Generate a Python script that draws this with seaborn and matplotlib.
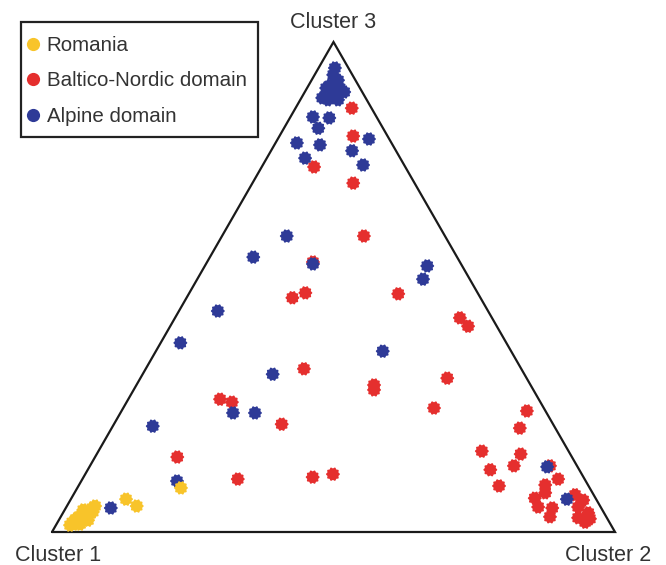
import numpy as np
import pandas as pd
import matplotlib
matplotlib.use("Agg")
import matplotlib.pyplot as plt
from matplotlib.path import Path
from matplotlib.lines import Line2D
from matplotlib.patches import Rectangle
import seaborn as sns

# Membership proportions (Cluster 2, Cluster 3); Cluster 1 is the remainder.
romania_c2 = [0.026, 0.029, 0.033, 0.038, 0.043, 0.047, 0.037, 0.046, 0.049, 0.041,
              0.031, 0.025, 0.033, 0.050, 0.042, 0.052, 0.052,
              0.098, 0.124, 0.184]
romania_c3 = [0.020, 0.027, 0.033, 0.037, 0.041, 0.049, 0.018, 0.029, 0.037, 0.024,
              0.016, 0.014, 0.045, 0.053, 0.016, 0.024, 0.041,
              0.067, 0.053, 0.090]

alpine_c2 = [0.080, 0.170, 0.029, 0.033, 0.047, 0.038, 0.058, 0.034, 0.070, 0.053,
             0.049, 0.067, 0.037, 0.040, 0.070, 0.061, 0.038, 0.081, 0.068, 0.162,
             0.144, 0.178, 0.115, 0.077, 0.190, 0.069, 0.035, 0.231, 0.200, 0.239,
             0.071, 0.395, 0.401, 0.403, 0.813, 0.881]
alpine_c3 = [0.049, 0.104, 0.947, 0.933, 0.922, 0.912, 0.906, 0.906, 0.898, 0.892,
             0.882, 0.882, 0.886, 0.847, 0.845, 0.824, 0.794, 0.790, 0.763, 0.802,
             0.778, 0.749, 0.604, 0.561, 0.547, 0.451, 0.386, 0.322, 0.243, 0.243,
             0.216, 0.543, 0.516, 0.369, 0.133, 0.067]

baltic_c2 = [0.100, 0.131, 0.093, 0.179, 0.252, 0.188, 0.188, 0.206, 0.372, 0.506,
             0.529, 0.281, 0.422, 0.427, 0.545, 0.552, 0.163, 0.187, 0.298, 0.407,
             0.440, 0.146, 0.276, 0.720, 0.725, 0.681, 0.753, 0.753, 0.715, 0.747,
             0.817, 0.845, 0.828, 0.836, 0.823, 0.838, 0.864, 0.869, 0.891, 0.911,
             0.909, 0.920, 0.933, 0.942, 0.937]
baltic_c3 = [0.865, 0.808, 0.745, 0.712, 0.604, 0.551, 0.478, 0.488, 0.486, 0.437,
             0.420, 0.333, 0.300, 0.290, 0.314, 0.253, 0.271, 0.265, 0.220, 0.112,
             0.118, 0.153, 0.108, 0.247, 0.212, 0.165, 0.159, 0.135, 0.127, 0.094,
             0.135, 0.108, 0.096, 0.080, 0.069, 0.051, 0.049, 0.031, 0.076, 0.065,
             0.051, 0.029, 0.039, 0.027, 0.020]

groups = ["Romania", "Baltico-Nordic domain", "Alpine domain"]
colors = {"Romania": "#F8C42A", "Baltico-Nordic domain": "#E52F2E",
          "Alpine domain": "#2E3A97"}
vertex_labels = ["Cluster 1", "Cluster 2", "Cluster 3"]

H = np.sqrt(3) / 2


def frame(name, c2, c3):
    c2 = np.asarray(c2)
    c3 = np.asarray(c3)
    return pd.DataFrame({"c1": 1 - c2 - c3, "c2": c2, "c3": c3, "group": name})


# draw order: Baltic under Alpine under Romania
df = pd.concat([frame("Baltico-Nordic domain", baltic_c2, baltic_c3),
                frame("Alpine domain", alpine_c2, alpine_c3),
                frame("Romania", romania_c2, romania_c3)], ignore_index=True)
df["x"] = df["c2"] + df["c3"] / 2
df["y"] = df["c3"] * H

# cog-shaped marker
theta = np.linspace(0, 2 * np.pi, 121)
r = 1 + 0.09 * np.cos(10 * theta)
cog = Path(np.column_stack([r * np.cos(theta), r * np.sin(theta)]), closed=True)

sns.set_theme(style="white")
plt.rcParams["font.family"] = ["Liberation Sans", "DejaVu Sans"]

W, Hpx = 666, 565
fig = plt.figure(figsize=(W / 100, Hpx / 100), dpi=100)
ax = fig.add_axes([0, 0, 1, 1])

# triangle frame
tri = np.array([[0, 0], [1, 0], [0.5, H], [0, 0]])
ax.plot(tri[:, 0], tri[:, 1], color="#1a1a1a", lw=1.6, solid_joinstyle="miter", zorder=1)

sns.scatterplot(data=df, x="x", y="y", hue="group", hue_order=groups, palette=colors,
                marker=cog, s=100, linewidth=0, legend=False, ax=ax, zorder=3)

# vertex labels
lab_kw = dict(fontsize=15.5, color="#333333", ha="center", va="center")
ax.text(0.5, H + 0.035, vertex_labels[2], **lab_kw)
ax.text(0.01, -0.041, vertex_labels[0], **lab_kw)
ax.text(0.988, -0.041, vertex_labels[1], **lab_kw)

ax.set_xlim(-52 / 563, (W - 52) / 563)
ux = 490 / H
ax.set_ylim(-33 / ux, (Hpx - 33) / ux)
ax.set_axis_off()

# legend entries without frame, boxed by a separate rectangle
handles = [Line2D([], [], marker="o", ls="", markersize=9.5, markeredgewidth=0,
                  color=colors[g]) for g in groups]
leg = ax.legend(handles, groups, loc="upper left",
                bbox_to_anchor=(26 / W, 1 - 36 / Hpx), bbox_transform=fig.transFigure,
                frameon=False, fontsize=14.8, borderpad=0,
                labelspacing=0.8, handlelength=0.7, handletextpad=0.3,
                borderaxespad=0)
for t in leg.get_texts():
    t.set_color("#333333")
fig.patches.append(Rectangle((21 / W, 1 - 137 / Hpx), 237 / W, 115 / Hpx,
                             transform=fig.transFigure, fill=False,
                             edgecolor="#222222", linewidth=1.6, zorder=5))

fig.savefig("out.png", dpi=100)
